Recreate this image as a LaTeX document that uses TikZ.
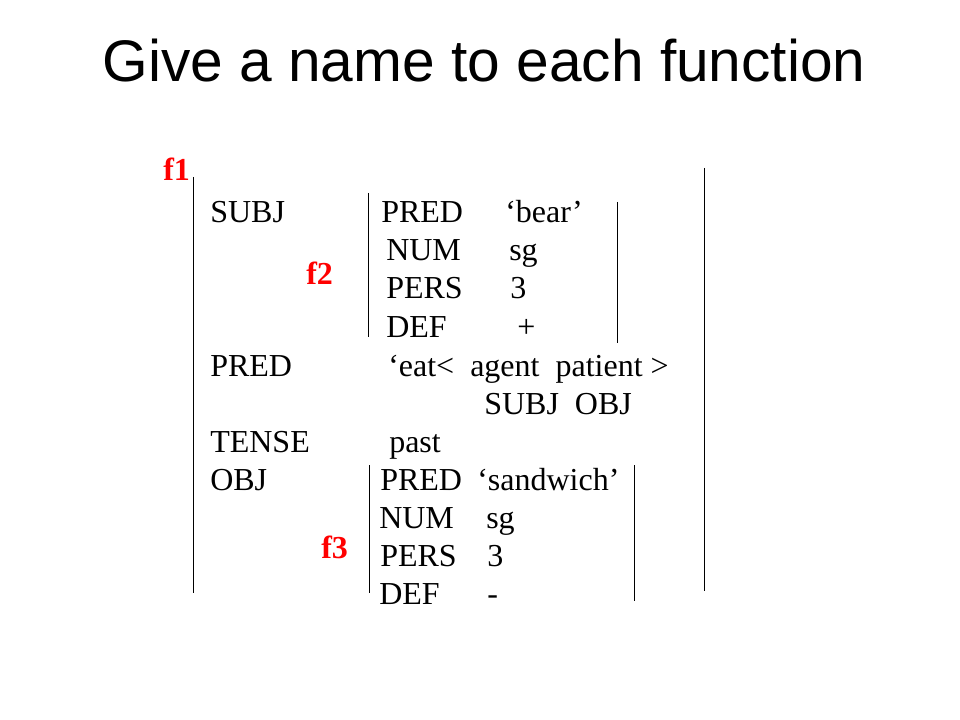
\documentclass[tikz,border=0pt]{standalone}
\usepackage{fontspec}
\setmainfont{Liberation Serif}
\newfontfamily\titlefont{Liberation Sans}
\begin{document}
\begin{tikzpicture}[x=0.75pt,y=-0.75pt,
  txt/.style={anchor=base west,inner sep=0pt,font=\fontsize{24}{28.8}\selectfont},
  lbl/.style={anchor=base west,inner sep=0pt,text=red,font=\fontsize{24}{28.8}\selectfont\bfseries},
  bar/.style={line width=0.65pt,black}]
\useasboundingbox (0,0) rectangle (960,720);
\fill[white] (0,0) rectangle (960,720);
% title
\node[anchor=base,inner sep=0pt,font=\titlefont\fontsize{44}{52}\selectfont] (title) at (484,82) {Give a name to each function};
% labels
\node[lbl] (f1) at (163,181) {f1};
\node[lbl] (f2) at (306,285) {f2};
\node[lbl] (f3) at (321,558) {f3};
% brackets
\coordinate (f1lt) at (193,177); \coordinate (f1lb) at (193,593);
\coordinate (f1rt) at (704,168); \coordinate (f1rb) at (704,591);
\coordinate (f2lt) at (368,193); \coordinate (f2lb) at (368,337);
\coordinate (f2rt) at (617,202); \coordinate (f2rb) at (617,343);
\coordinate (f3lt) at (369,465); \coordinate (f3lb) at (369,593);
\coordinate (f3rt) at (634,465); \coordinate (f3rb) at (634,601);
\draw[bar] (f1lt) -- (f1lb);
\draw[bar] (f1rt) -- (f1rb);
\draw[bar] (f2lt) -- (f2lb);
\draw[bar] (f2rt) -- (f2rb);
\draw[bar] (f3lt) -- (f3lb);
\draw[bar] (f3rt) -- (f3rb);
% outer f-structure
\node[txt] (subj) at (210,223) {SUBJ};
\node[txt] (pred) at (210,376) {PRED};
\node[txt] (tense) at (210,452) {TENSE};
\node[txt] (obj) at (210,490) {OBJ};
% f2
\node[txt] (p2) at (381,223) {PRED};
\node[txt] (v2a) at (505,223) {‘bear’};
\node[txt] (n2) at (386,261) {NUM};
\node[txt] (v2b) at (509,261) {sg};
\node[txt] (pe2) at (386,299) {PERS};
\node[txt] (v2c) at (510,299) {3};
\node[txt] (d2) at (386,337) {DEF};
\node[txt] (v2d) at (517,337) {+};
% pred eat
\node[txt] (eat) at (388,376) {‘eat<\ \ agent\ \ patient >};
\node[txt] (gf) at (484,414) {SUBJ\ \ OBJ};
\node[txt] (past) at (389,452) {past};
% f3
\node[txt] (p3) at (380,490) {PRED};
\node[txt] (v3a) at (477,490) {‘sandwich’};
\node[txt] (n3) at (379,528) {NUM};
\node[txt] (v3b) at (486,528) {sg};
\node[txt] (pe3) at (380,566) {PERS};
\node[txt] (v3c) at (487,566) {3};
\node[txt] (d3) at (379,604) {DEF};
\node[txt] (v3d) at (487,604) {-};
\end{tikzpicture}
\end{document}
